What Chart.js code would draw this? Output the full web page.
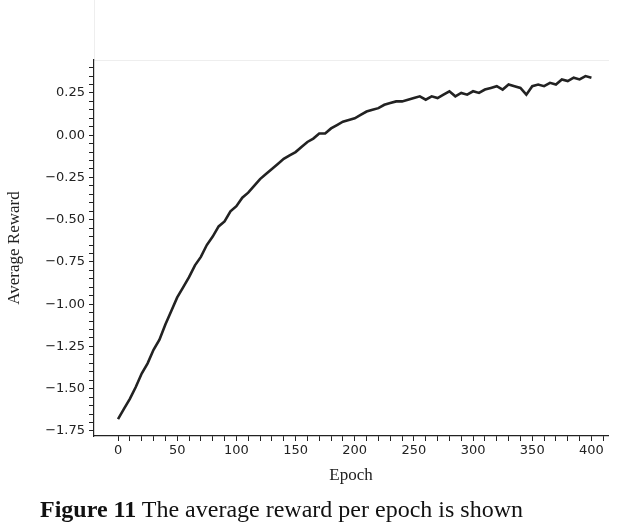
<!DOCTYPE html>
<html><head><meta charset="utf-8">
<script src="https://cdn.jsdelivr.net/npm/chart.js@4"></script>
<style>body{margin:0;background:#fff;width:638px;height:522px;overflow:hidden;position:relative}
#c{position:absolute;left:0;top:0}
#cap{position:absolute;left:40px;top:496px;font-family:"Liberation Serif",serif;font-size:24px;color:#111;white-space:nowrap}
#fr{position:absolute;left:94px;top:0;width:514px;height:60px;border-left:1px solid #eee;border-bottom:1px solid #eee}</style>
</head><body>
<div id="fr"></div>
<canvas id="c" width="638" height="522"></canvas>
<div id="cap"><b>Figure 11</b> The average reward per epoch is shown</div>
<script>
const epochs=[];for(let e=0;e<=400;e+=5)epochs.push(e);
const reward=[-1.68,-1.62,-1.56,-1.49,-1.41,-1.35,-1.27,-1.21,-1.12,-1.04,-0.96,-0.90,-0.84,-0.77,-0.72,-0.65,-0.60,-0.54,-0.51,-0.45,-0.42,-0.37,-0.34,-0.30,-0.26,-0.23,-0.20,-0.17,-0.14,-0.12,-0.10,-0.07,-0.04,-0.02,0.01,0.01,0.04,0.06,0.08,0.09,0.10,0.12,0.14,0.15,0.16,0.18,0.19,0.20,0.20,0.21,0.22,0.23,0.21,0.23,0.22,0.24,0.26,0.23,0.25,0.24,0.26,0.25,0.27,0.28,0.29,0.27,0.30,0.29,0.28,0.24,0.29,0.30,0.29,0.31,0.30,0.33,0.32,0.34,0.33,0.35,0.34];
const xLabels=[0,50,100,150,200,250,300,350,400];
const yLabels=[-1.75,-1.5,-1.25,-1,-0.75,-0.5,-0.25,0,0.25];
const ink='#222';
new Chart(document.getElementById('c'),{type:'line',
data:{datasets:[{data:epochs.map((e,i)=>({x:e,y:reward[i]})),borderColor:ink,borderWidth:2.6,pointRadius:0,tension:0}]},
options:{responsive:false,animation:false,plugins:{legend:{display:false},tooltip:{enabled:false}},
layout:{padding:{top:60,right:30,bottom:32,left:0}},
scales:{
x:{type:'linear',min:-20.3,max:414,
 afterBuildTicks:s=>{const t=[];for(let v=0;v<=410;v+=10)t.push({value:v});s.ticks=t;},
 afterFit:s=>{s.height=54;},
 ticks:{autoSkip:false,maxRotation:0,color:ink,font:{family:'DejaVu Sans',size:13},padding:2,callback:v=>xLabels.includes(v)?String(v):''},
 grid:{drawOnChartArea:false,tickLength:5,tickColor:ink},
 border:{color:ink,width:1.2},
 title:{display:true,text:'Epoch',color:ink,font:{family:'Liberation Serif',size:17},padding:{top:6}}},
y:{type:'linear',min:-1.78,max:0.445,
 afterBuildTicks:s=>{const t=[];for(let k=-35;k<=8;k++)t.push({value:Math.round(k*5)/100});s.ticks=t;},
 afterFit:s=>{s.width=94;},
 ticks:{autoSkip:false,color:ink,font:{family:'DejaVu Sans',size:13},padding:4,callback:v=>yLabels.some(l=>Math.abs(l-v)<1e-6)?v.toFixed(2).replace('-','\u2212'):''},
 grid:{drawOnChartArea:false,tickLength:5,tickColor:ink},
 border:{color:ink,width:1.2},
 title:{display:true,text:'Average Reward',color:ink,font:{family:'Liberation Serif',size:17},padding:{bottom:4}}}
}}});
</script></body></html>
